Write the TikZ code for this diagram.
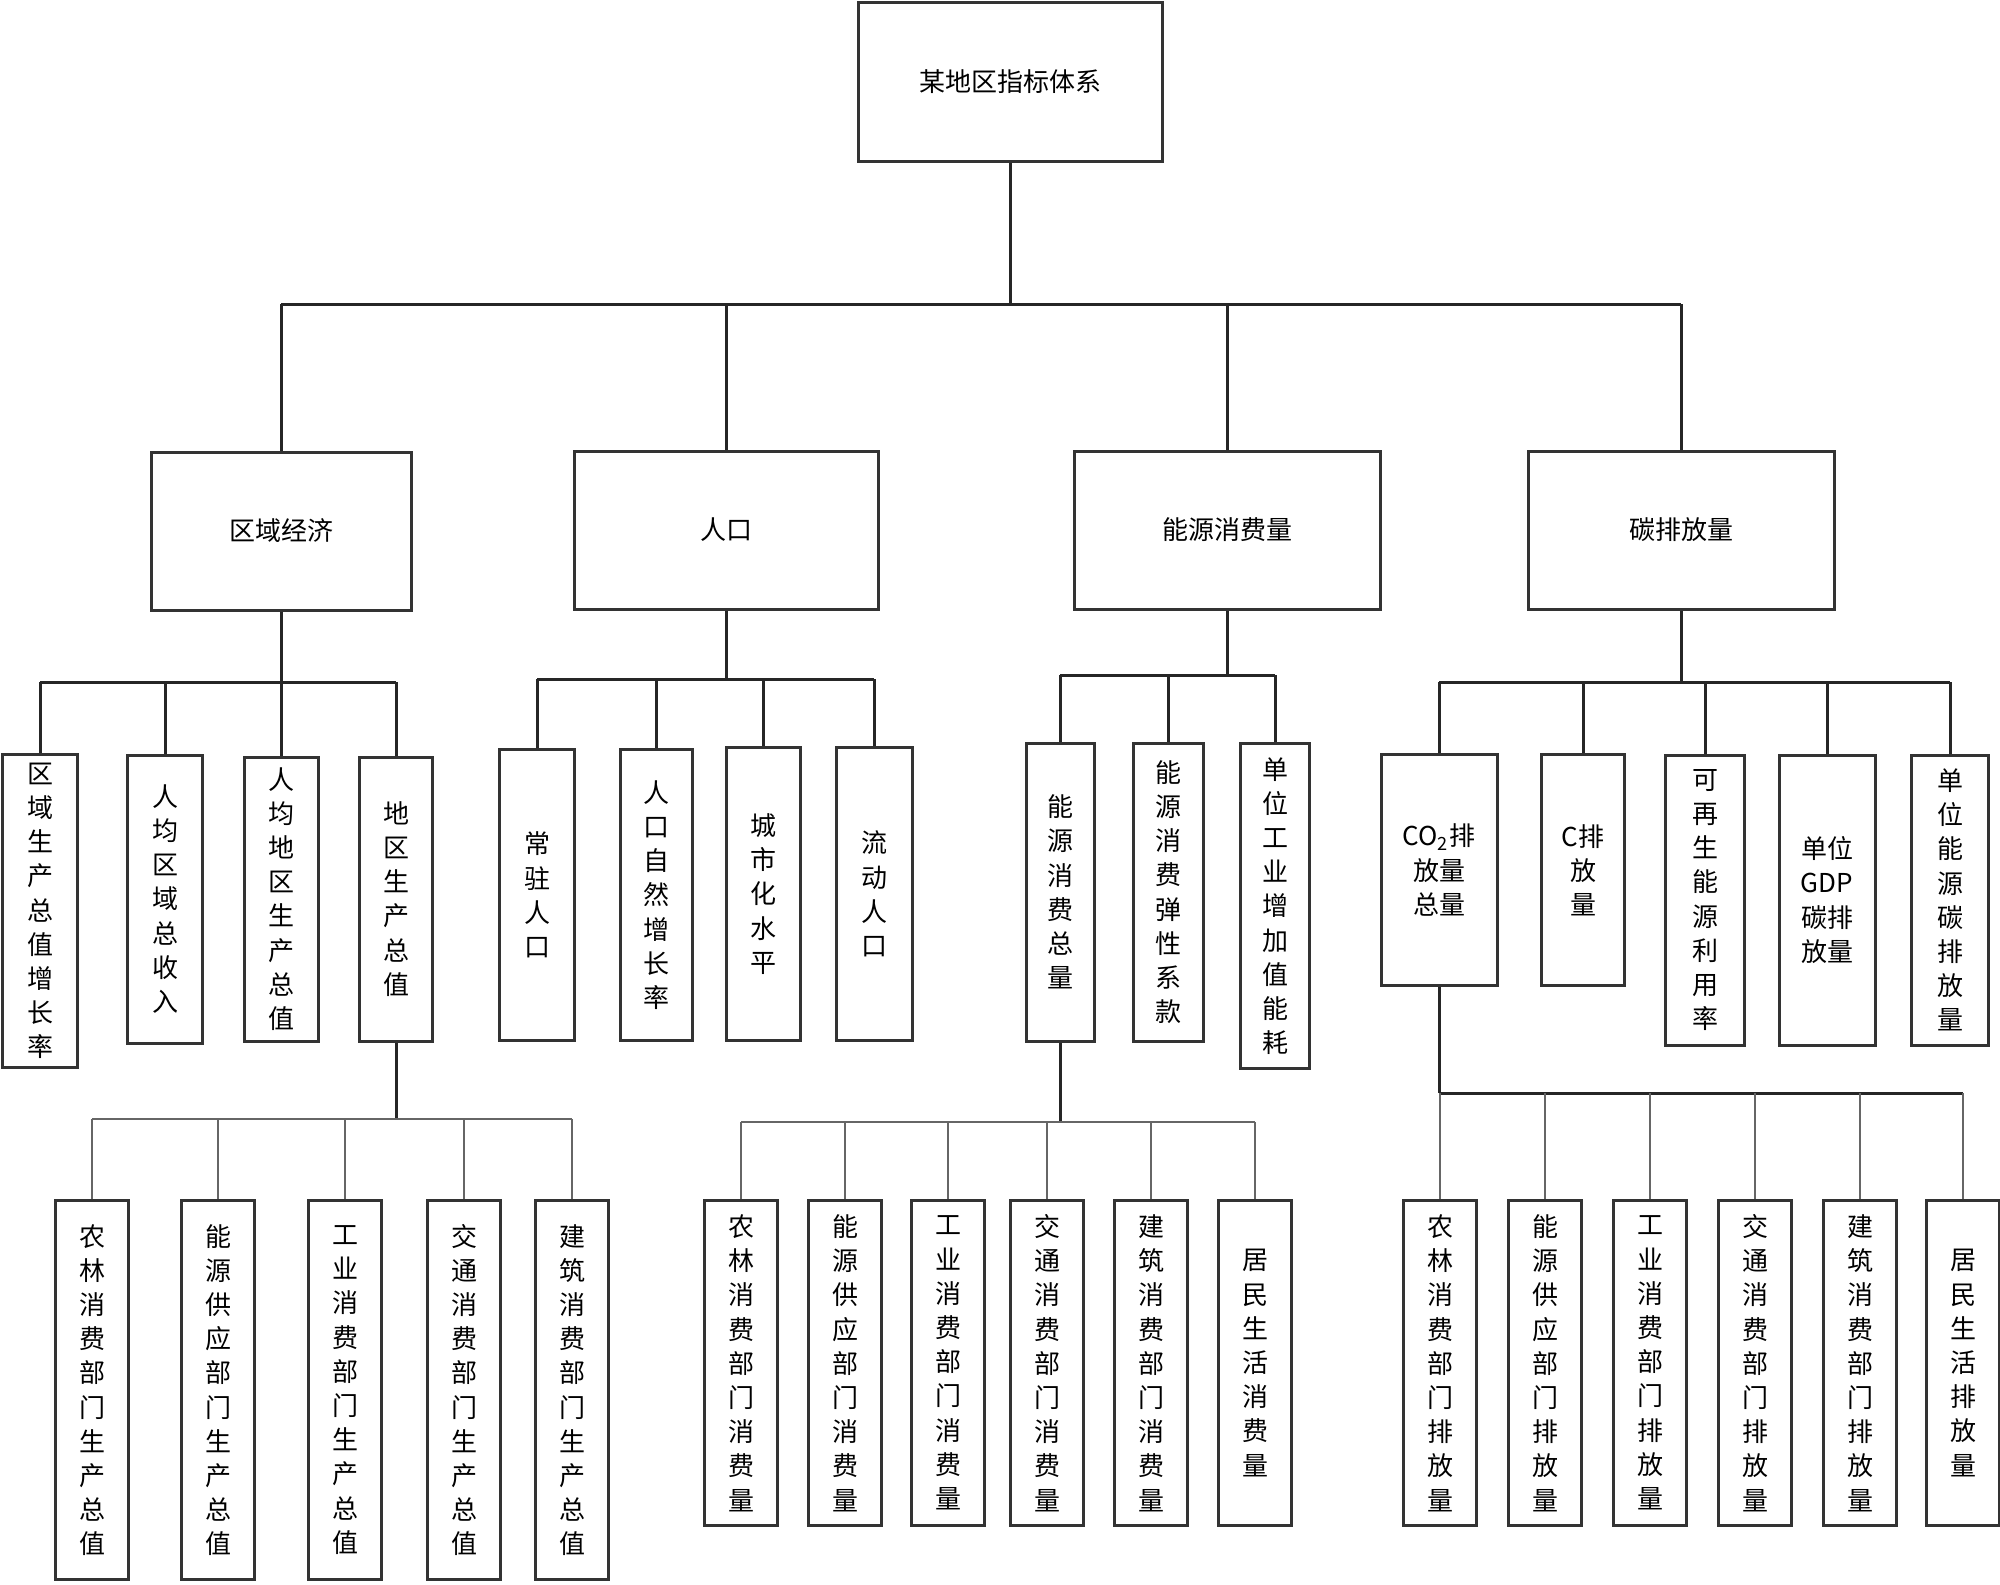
\documentclass[tikz,border=0pt]{standalone}
\usepackage{fontspec}
\setmainfont{Noto Sans CJK SC}
\usepackage{tikz}
\usetikzlibrary{positioning,calc}

\begin{document}
\begin{tikzpicture}[
  x=0.5pt,y=-0.5pt,
  box/.style={draw=black!80,line width=1.5pt,fill=white,inner sep=0pt,align=center,font=\fontsize{13}{17.1}\selectfont},
  rootbox/.style={box,minimum width=152pt,minimum height=79pt},
  catbox/.style={box,minimum height=79pt},
  leafbox/.style={box,minimum width=36.5pt},
  lowbox/.style={box,minimum width=36.5pt,minimum height=162.5pt},
  link/.style={line width=1.5pt,draw=black!85},
  thinlink/.style={line width=1pt,draw=black!60}
]
\useasboundingbox (0,0) rectangle (2000,1584);

\node[rootbox] (root) at (1010,82) {某地区指标体系};

\node[catbox,minimum width=130pt] (eco) at (281,531) {区域经济};
\node[catbox,minimum width=152pt] (pop) at (726,530) {人口};
\node[catbox,minimum width=153pt] (ene) at (1227,530) {能源消费量};
\node[catbox,minimum width=153pt] (car) at (1681,530) {碳排放量};

\node[leafbox,minimum width=37.5pt,minimum height=156.5pt] (eco1) at (40,911) {区\\域\\生\\产\\总\\值\\增\\长\\率};
\node[leafbox,minimum width=37.5pt,minimum height=144pt] (eco2) at (165,899) {人\\均\\区\\域\\总\\收\\入};
\node[leafbox,minimum width=37pt,minimum height=142pt] (eco3) at (281,899) {人\\均\\地\\区\\生\\产\\总\\值};
\node[leafbox,minimum height=142pt] (eco4) at (396,899) {地\\区\\生\\产\\总\\值};

\node[leafbox,minimum width=37.5pt,minimum height=145.5pt] (pop1) at (537,895) {常\\驻\\人\\口};
\node[leafbox,minimum width=36pt,minimum height=145.5pt] (pop2) at (656,895) {人\\口\\自\\然\\增\\长\\率};
\node[leafbox,minimum width=37pt,minimum height=146.5pt] (pop3) at (763,894) {城\\市\\化\\水\\平};
\node[leafbox,minimum width=38pt,minimum height=146.5pt] (pop4) at (874,894) {流\\动\\人\\口};

\node[leafbox,minimum width=34pt,minimum height=149pt] (ene1) at (1060,892) {能\\源\\消\\费\\总\\量};
\node[leafbox,minimum width=35pt,minimum height=149pt] (ene2) at (1168,892) {能\\源\\消\\费\\弹\\性\\系\\款};
\node[leafbox,minimum width=34.5pt,minimum height=162.5pt] (ene3) at (1275,906) {单\\位\\工\\业\\增\\加\\值\\能\\耗};

\node[leafbox,minimum width=58pt,minimum height=115.5pt] (car1) at (1439,870) {CO\textsubscript{2}排\\放量\\总量};
\node[leafbox,minimum width=41.5pt,minimum height=115.5pt] (car2) at (1583,870) {C排\\放\\量};
\node[leafbox,minimum width=39.5pt,minimum height=145pt] (car3) at (1705,900) {可\\再\\生\\能\\源\\利\\用\\率};
\node[leafbox,minimum width=48pt,minimum height=145pt] (car4) at (1827,900) {单位\\GDP\\碳排\\放量};
\node[leafbox,minimum width=38.5pt,minimum height=145pt] (car5) at (1950,900) {单\\位\\能\\源\\碳\\排\\放\\量};

\node[lowbox,minimum height=189.5pt] (gdp1) at (92,1390) {农\\林\\消\\费\\部\\门\\生\\产\\总\\值};
\node[lowbox,minimum height=189.5pt] (gdp2) at (218,1390) {能\\源\\供\\应\\部\\门\\生\\产\\总\\值};
\node[lowbox,minimum height=189.5pt] (gdp3) at (345,1390) {工\\业\\消\\费\\部\\门\\生\\产\\总\\值};
\node[lowbox,minimum height=189.5pt] (gdp4) at (464,1390) {交\\通\\消\\费\\部\\门\\生\\产\\总\\值};
\node[lowbox,minimum height=189.5pt] (gdp5) at (572,1390) {建\\筑\\消\\费\\部\\门\\生\\产\\总\\值};

\node[lowbox] (use1) at (741,1363) {农\\林\\消\\费\\部\\门\\消\\费\\量};
\node[lowbox] (use2) at (845,1363) {能\\源\\供\\应\\部\\门\\消\\费\\量};
\node[lowbox] (use3) at (948,1363) {工\\业\\消\\费\\部\\门\\消\\费\\量};
\node[lowbox] (use4) at (1047,1363) {交\\通\\消\\费\\部\\门\\消\\费\\量};
\node[lowbox] (use5) at (1151,1363) {建\\筑\\消\\费\\部\\门\\消\\费\\量};
\node[lowbox] (use6) at (1255,1363) {居\\民\\生\\活\\消\\费\\量};

\node[lowbox] (emi1) at (1440,1363) {农\\林\\消\\费\\部\\门\\排\\放\\量};
\node[lowbox] (emi2) at (1545,1363) {能\\源\\供\\应\\部\\门\\排\\放\\量};
\node[lowbox] (emi3) at (1650,1363) {工\\业\\消\\费\\部\\门\\排\\放\\量};
\node[lowbox] (emi4) at (1755,1363) {交\\通\\消\\费\\部\\门\\排\\放\\量};
\node[lowbox] (emi5) at (1860,1363) {建\\筑\\消\\费\\部\\门\\排\\放\\量};
\node[lowbox] (emi6) at (1963,1363) {居\\民\\生\\活\\排\\放\\量};

\coordinate (bus0) at (0,304);
\coordinate (busEco) at (0,682);
\coordinate (busPop) at (0,679);
\coordinate (busEne) at (0,675);
\coordinate (busCar) at (0,682);
\coordinate (busGdp) at (0,1119);
\coordinate (busUse) at (0,1122);
\coordinate (busEmi) at (0,1093);

\draw[link] (root.south) -- (root.south |- bus0);
\draw[link] (eco.north |- bus0) -- (car.north |- bus0);
\foreach \n in {eco,pop,ene,car} \draw[link] (\n.north) -- (\n.north |- bus0);

\draw[link] (eco.south) -- (eco.south |- busEco);
\draw[link] (eco1.north |- busEco) -- (eco4.north |- busEco);
\foreach \n in {eco1,eco2,eco3,eco4} \draw[link] (\n.north) -- (\n.north |- busEco);

\draw[link] (pop.south) -- (pop.south |- busPop);
\draw[link] (pop1.north |- busPop) -- (pop4.north |- busPop);
\foreach \n in {pop1,pop2,pop3,pop4} \draw[link] (\n.north) -- (\n.north |- busPop);

\draw[link] (ene.south) -- (ene.south |- busEne);
\draw[link] (ene1.north |- busEne) -- (ene3.north |- busEne);
\foreach \n in {ene1,ene2,ene3} \draw[link] (\n.north) -- (\n.north |- busEne);

\draw[link] (car.south) -- (car.south |- busCar);
\draw[link] (car1.north |- busCar) -- (car5.north |- busCar);
\foreach \n in {car1,car2,car3,car4,car5} \draw[link] (\n.north) -- (\n.north |- busCar);

\draw[link] (eco4.south) -- (eco4.south |- busGdp);
\draw[thinlink] (gdp1.north |- busGdp) -- (gdp5.north |- busGdp);
\foreach \n in {gdp1,gdp2,gdp3,gdp4,gdp5} \draw[thinlink] (\n.north) -- (\n.north |- busGdp);

\draw[link] (ene1.south) -- (ene1.south |- busUse);
\draw[thinlink] (use1.north |- busUse) -- (use6.north |- busUse);
\foreach \n in {use1,use2,use3,use4,use5,use6} \draw[thinlink] (\n.north) -- (\n.north |- busUse);

\draw[link] (car1.south) -- (car1.south |- busEmi);
\draw[link] (emi1.north |- busEmi) -- (emi6.north |- busEmi);
\foreach \n in {emi1,emi2,emi3,emi4,emi5,emi6} \draw[thinlink] (\n.north) -- (\n.north |- busEmi);
\end{tikzpicture}
\end{document}
